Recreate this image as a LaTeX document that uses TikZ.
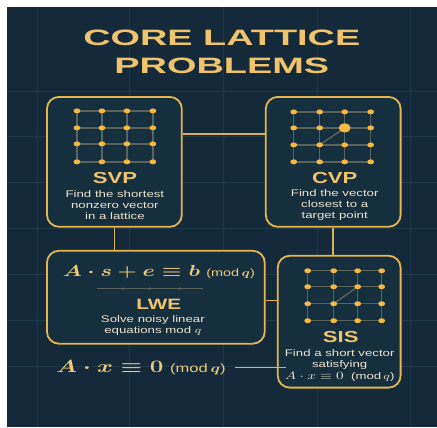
\documentclass[tikz,border=0pt]{standalone}
\usepackage{fix-cm}
\usepackage[no-math]{fontspec}
\setmainfont{Liberation Sans}
\definecolor{bgnavy}{HTML}{142A3B}
\definecolor{boxfill}{HTML}{162F3F}
\definecolor{gridline}{HTML}{1E394A}
\definecolor{gold}{HTML}{F0C46C}
\definecolor{goldline}{HTML}{E6B54E}
\definecolor{dotgold}{HTML}{F5B942}
\definecolor{latline}{HTML}{5A635C}
\definecolor{cream}{HTML}{EDE3CC}
\begin{document}
\begin{tikzpicture}[x=1pt, y=-1pt,
        panel/.style={draw=goldline, line width=1.8pt, rounded corners=12pt, fill=boxfill},
        link/.style={goldline!90!gray, line width=1.5pt},
        title/.style={font=\bfseries\fontsize{22.3}{28}\selectfont, text=gold, align=center, xscale=1.7, inner sep=0pt},
        heading/.style={font=\bfseries\fontsize{16}{16}\selectfont, text=gold, xscale=1.38, inner sep=0pt},
        desc/.style={font=\fontsize{9.6}{11}\selectfont, text=cream, align=center, xscale=1.38, inner sep=0pt},
        formula/.style={text=gold!85!cream, xscale=1.38, inner sep=0pt},
        latedge/.style={latline, line width=1.4pt}
    ]
        % Canvas
        \fill[white] (0,0) rectangle (437,427);
        \fill[bgnavy] (7,7) rectangle (437,427);
        \foreach \gx in {37,130,224,318,411}
            \draw[gridline, line width=0.8pt] (\gx,7) -- (\gx,427);
        \foreach \gy in {91,137,183,229,275,321,367}
            \draw[gridline, line width=0.8pt] (7,\gy) -- (437,\gy);
        \foreach \gx in {37,130,224,318,411}
            \foreach \gy in {91,137,183,229,275,321,367}
                \fill[gridline] (\gx,\gy) circle (1.6pt);

        % Title
        \node[title] (ttl) at (222,52) {CORE LATTICE\\PROBLEMS};

        % Problem boxes
        \node[panel, minimum width=135pt, minimum height=130pt] (svp) at (114.5,162) {};
        \node[panel, minimum width=135pt, minimum height=130pt] (cvp) at (333.5,162) {};
        \node[panel, minimum width=218pt, minimum height=93pt] (lwe) at (156,297.5) {};
        \node[panel, minimum width=123pt, minimum height=132pt] (sis) at (339.5,322) {};

        % Formula outside the boxes
        \node[formula, font=\fontsize{17.5}{17.5}\selectfont\boldmath] (axeq) at (141,368)
            {$A\cdot x\equiv 0$ {\fontsize{12}{12}\selectfont (mod\,$q$)}};

        % Connectors
        \draw[link] ([yshift=28pt]svp.east) -- ([yshift=28pt]cvp.west);
        \draw[link] (svp.south) -- (svp.south |- lwe.north);
        \draw[link] (cvp.south) -- (cvp.south |- sis.north);
        \draw[link] ([yshift=-3.5pt]lwe.east) -- ([yshift=-3.5pt]lwe.east -| sis.west);
        \draw[link] ([xshift=9pt]axeq.east) -- ([xshift=9pt]axeq.east -| sis.west);

        % SVP lattice
        \foreach \y in {111,128,144,162}
            \draw[latedge] (77,\y) -- (153,\y);
        \foreach \x in {77,102,127,153}
            \draw[latedge] (\x,111) -- (\x,162);
        \foreach \x in {77,102,127,153}
            \foreach \y in {111,128,144,162}
                \fill[dotgold] (\x,\y) ellipse [x radius=3.4pt, y radius=2.5pt];
        \node[heading] (svpname) at (115,178) {SVP};
        \node[desc] (svpdesc) at (115,205) {Find the shortest\\nonzero vector\\in a lattice};

        % CVP lattice
        \foreach \y in {112,128,145,162}
            \draw[latedge] (294,\y) -- (371,\y);
        \foreach \x in {294,320,345,371}
            \draw[latedge] (\x,112) -- (\x,162);
        \draw[latedge] (320,145) -- (345,128);
        \foreach \x in {294,320,345,371}
            \foreach \y in {112,128,145,162}
                \fill[dotgold] (\x,\y) ellipse [x radius=3.4pt, y radius=2.5pt];
        \fill[dotgold] (345,128) ellipse [x radius=6pt, y radius=4.5pt];
        \node[heading] (cvpname) at (335,178) {CVP};
        \node[desc] (cvpdesc) at (335,205) {Find the vector\\closest to a\\target point};

        % LWE
        \node[formula, font=\fontsize{16}{16}\selectfont\boldmath] (lweeq) at (159,272)
            {$A\cdot s+e\equiv b$ {\fontsize{10.5}{10.5}\selectfont(mod\,$q$)}};
        \draw[latline, line width=1pt] (97,289) -- (203,289);
        \foreach \x in {123,150,180}
            \fill[latline] (\x,289) circle (1.4pt);
        \node[heading, font=\bfseries\fontsize{15}{15}\selectfont] (lwename) at (159,305) {LWE};
        \node[desc] (lwedesc) at (153,325.5) {Solve noisy linear\\equations mod $q$};

        % SIS lattice
        \foreach \y in {271,287,304,321}
            \draw[latedge] (308,\y) -- (382,\y);
        \foreach \x in {308,334,358,382}
            \draw[latedge] (\x,271) -- (\x,321);
        \draw[latedge] (334,304) -- (358,287);
        \foreach \x in {308,334,358,382}
            \foreach \y in {271,287,304,321}
                \fill[dotgold] (\x,\y) ellipse [x radius=3.4pt, y radius=2.5pt];
        \node[heading] (sisname) at (341,337) {SIS};
        \node[desc] (sisdesc) at (340,360) {Find a short vector\\satisfying};
        \node[desc] (sisrule) at (340,377.5) {{\fontsize{11}{11}\selectfont$A\cdot x\equiv 0$}\ \ (mod\,$q$)};
    \end{tikzpicture}
\end{document}
